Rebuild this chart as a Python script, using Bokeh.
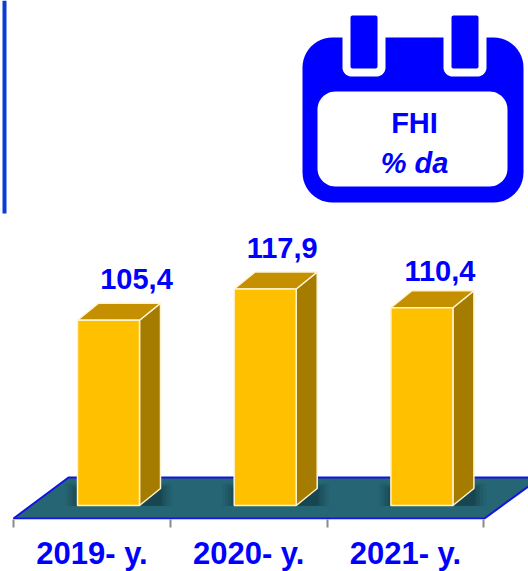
from bokeh.plotting import figure
from bokeh.models import Range1d, FixedTicker, Label
from bokeh.embed import file_html
from bokeh.resources import INLINE
import math

years = ["2019- y.", "2020- y.", "2021- y."]
values = [105.4, 117.9, 110.4]
value_labels = ["105,4", "117,9", "110,4"]
label_dx = [28, 17, 18]
label_dy = [41, 41, 37]

W, H = 528, 571
FRAME_B = 519
SLOT = 156.7
X0 = 91.5
BASE_PX = 505
BASE_V = 31.3
PX_PER_V = 2.5
BAR_OFF = 16.5
BAR_W = 62
DX, DY = 21, 17

def fx(px):
    return (px - X0) / SLOT

def fy(py):
    return BASE_V + (BASE_PX - py) / PX_PER_V

p = figure(frame_width=W, frame_height=FRAME_B, output_backend="svg", toolbar_location=None,
           x_range=Range1d(fx(0), fx(W)), y_range=Range1d(fy(FRAME_B), fy(0)),
           min_border=0, min_border_left=0, min_border_right=0, min_border_top=0,
           min_border_bottom=0, outline_line_color=None,
           y_axis_location=None, x_axis_location="below")
p.xgrid.visible = False
p.ygrid.visible = False
p.background_fill_color = "white"
p.border_fill_color = "white"

ax = p.xaxis[0]
idx = list(range(len(years)))
ax.ticker = FixedTicker(ticks=idx, minor_ticks=[i - 0.5 for i in idx] + [idx[-1] + 0.5])
ax.major_label_overrides = {i: y for i, y in zip(idx, years)}
ax.axis_line_color = None
ax.major_tick_line_color = None
ax.major_tick_out = 0
ax.major_tick_in = 0
ax.minor_tick_line_color = "#8a8a8a"
ax.minor_tick_line_width = 2
ax.minor_tick_out = 8
ax.minor_tick_in = 0
ax.major_label_standoff = 8
ax.major_label_text_font = "Liberation Sans"
ax.major_label_text_font_style = "bold"
ax.major_label_text_font_size = "31px"
ax.major_label_text_color = "#0000FF"

# left rule
p.quad(left=fx(2), right=fx(6), bottom=fy(213), top=fy(0), fill_color="#0A3CD8", line_color=None)

# floor
p.patch([fx(13), fx(68), fx(540), fx(484)], [fy(518), fy(477), fy(477), fy(518)],
        fill_color="#266674", line_color="#1414E0", line_width=2)

centers = [i + BAR_OFF / SLOT for i in idx]
bw = BAR_W / SLOT
dx = DX / SLOT
dy = DY / PX_PER_V

# soft shadow at each bar's foot
for grow, alpha in [(12, 0.08), (9, 0.10), (6, 0.12), (3, 0.16), (1, 0.20)]:
    g = grow / SLOT
    gy = grow * 0.45 / PX_PER_V
    xs, ys = [], []
    for c in centers:
        l, r = c - bw / 2, c + bw / 2
        xs.append([l - g, r + dx + g, r + dx + g, l - g])
        ys.append([BASE_V - gy * 0.15, BASE_V - gy * 0.15, BASE_V + dy + gy, BASE_V + dy + gy])
    p.patches(xs, ys, fill_color="#0a2a33", fill_alpha=alpha, line_color=None)

edge = "#FFF3CF"
side_x, side_y, top_x, top_y = [], [], [], []
for c, v in zip(centers, values):
    l, r = c - bw / 2, c + bw / 2
    side_x.append([r, r + dx, r + dx, r])
    side_y.append([BASE_V, BASE_V + dy, v + dy, v])
    top_x.append([l, l + dx, r + dx, r])
    top_y.append([v, v + dy, v + dy, v])
p.patches(side_x, side_y, fill_color="#A67C00", line_color=edge, line_width=1.5)
p.patches(top_x, top_y, fill_color="#C49000", line_color=edge, line_width=1.5)
p.vbar(x=centers, bottom=BASE_V, top=values, width=bw, fill_color="#FFC000", line_color=edge, line_width=1.5)

for c, v, t, ox, oy in zip(centers, values, value_labels, label_dx, label_dy):
    p.add_layout(Label(x=c + ox / SLOT, y=v + oy / PX_PER_V, text=t, text_font="Liberation Sans",
                       text_font_style="bold", text_font_size="29px", text_color="#0000FF",
                       text_align="center", text_baseline="middle"))

def round_rect(x0, y0, x1, y1, r):
    xs, ys = [], []
    for cx, cy, a0 in [(x1 - r, y0 + r, -90), (x1 - r, y1 - r, 0), (x0 + r, y1 - r, 90), (x0 + r, y0 + r, 180)]:
        for k in range(13):
            a = math.radians(a0 + k * 7.5)
            xs.append(fx(cx + r * math.cos(a)))
            ys.append(fy(cy + r * math.sin(a)))
    return xs, ys

BLUE = "#0000FF"
for box, col in [((302, 37, 523, 202, 30), BLUE),
                 ((317, 91, 507, 186, 18), "white"),
                 ((342, 20, 385, 76, 9), "white"),
                 ((443, 20, 486, 76, 9), "white"),
                 ((350, 15, 377, 68, 2), BLUE),
                 ((451, 15, 478, 68, 2), BLUE)]:
    xs, ys = round_rect(*box)
    p.patch(xs, ys, fill_color=col, line_color=None)
p.add_layout(Label(x=fx(414), y=fy(122), text="FHI", text_font="Liberation Sans", text_font_style="bold",
                   text_font_size="29px", text_color=BLUE, text_align="center", text_baseline="middle"))
p.add_layout(Label(x=fx(414), y=fy(162), text="% da", text_font="Liberation Sans", text_font_style="bold italic",
                   text_font_size="29px", text_color=BLUE, text_align="center", text_baseline="middle"))

open("out.html", "w").write(file_html(p, INLINE))
